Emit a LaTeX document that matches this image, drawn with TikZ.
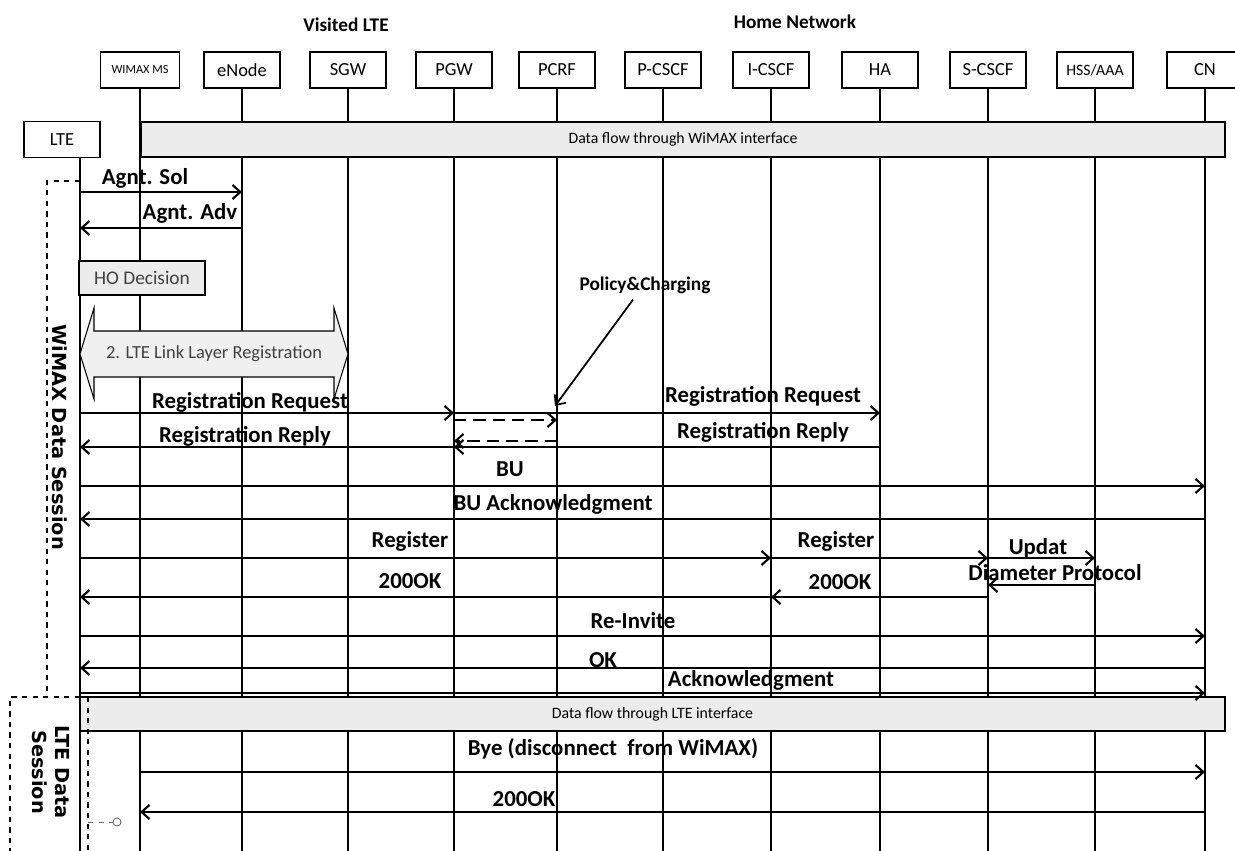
\documentclass[tikz,border=0pt]{standalone}
\usepackage{fontspec}
\setmainfont{Carlito}
\newfontfamily\sessfont{DejaVu Sans}
\usetikzlibrary{arrows.meta,positioning}

\begin{document}
\begin{tikzpicture}[
x=0.02cm, y=-0.02cm,
ent/.style={draw, line width=0.8pt, fill=white, minimum width=1.52cm, minimum height=0.72cm, inner sep=1pt, font=\fontsize{10.5}{12}\selectfont},
life/.style={line width=0.6pt},
bar/.style={draw, line width=0.8pt, fill=gray!15, inner sep=0pt, font=\fontsize{9}{10}\selectfont},
msg/.style={line width=1.2pt, -{Straight Barb[length=4.5pt,width=8pt]}},
pcc/.style={msg, dash pattern=on 7pt off 4pt},
lbl/.style={font=\bfseries\fontsize{13}{15}\selectfont, inner sep=0pt},
>=Stealth
]
\useasboundingbox (0,0) rectangle (1235,851);

% network groups
\node[font=\bfseries\fontsize{11}{13}\selectfont] (visited) at (346,25) {Visited LTE};
\node[font=\bfseries\fontsize{11}{13}\selectfont] (home) at (795,22) {Home Network};

% entities
\node[ent, minimum width=1.58cm] (wimax) at (140,70) {\fontsize{7}{8}\selectfont WIMAX MS};
\node[ent] (enode) at (242,70) {eNode};
\node[ent] (sgw) at (348,70) {SGW};
\node[ent] (pgw) at (454,70) {PGW};
\node[ent] (pcrf) at (557,70) {PCRF};
\node[ent] (pcscf) at (663,70) {P-CSCF};
\node[ent] (icscf) at (771,70) {I-CSCF};
\node[ent] (ha) at (880,70) {HA};
\node[ent] (scscf) at (988,70) {S-CSCF};
\node[ent] (hss) at (1095,70) {\fontsize{9}{10}\selectfont HSS/AAA};
\node[ent] (cn) at (1205,70) {CN};
\node[ent] (lte) at (62,139.5) {LTE};
\coordinate (ltel) at (80,157);

% lifelines
\foreach \n in {wimax,enode,sgw,pgw,pcrf,pcscf,icscf,ha,scscf,hss,cn}
  \draw[life] (\n.south) -- (\n |- 0,851);
\draw[life] (ltel) -- (ltel |- 0,851);

% data flow bars
\node[bar, minimum width=21.68cm, minimum height=0.7cm] (wflow) at (683,139.5) {Data flow through WiMAX interface};
\node[bar, minimum width=22.9cm, minimum height=0.68cm] (lflow) at (652.5,714) {Data flow through LTE interface};

% sessions
\draw[dashed, line width=0.6pt] (80,181) -- (47,181) -- (47,697);
\node[font=\sessfont\bfseries\fontsize{11}{13}\selectfont, rotate=-90] (wsess) at (60,437) {WiMAX Data Session};
\draw[dashed, line width=0.6pt] (80,697) -- (10,697) -- (10,851);
\draw[dashed, line width=0.6pt] (88,697) -- (88,851);
\node[font=\sessfont\bfseries\fontsize{11}{13}\selectfont, rotate=-90, align=center] (lsess) at (51,772) {LTE Data\\Session};
\coordinate (ltes) at (88,822);
\node[circle, draw=black!60, line width=0.5pt, inner sep=0pt, minimum size=0.16cm] (endc) at (117,822) {};
\draw[dashed, draw=black!60, line width=0.5pt] (ltes) -- (endc);

% agent discovery
\draw[msg] (ltel |- 0,192) -- (enode |- 0,192);
\node[lbl] (asol) at (145,178) {Agnt. Sol};
\draw[msg] (enode |- 0,228) -- (ltel |- 0,228);
\node[lbl] (aadv) at (190,213) {Agnt. Adv};

\node[draw, line width=0.8pt, fill=gray!15, minimum width=2.52cm, minimum height=0.68cm, text=black!75, font=\fontsize{11}{13}\selectfont] (ho) at (142,278) {HO Decision};

% link layer registration
\draw[line width=0.6pt, fill=gray!12] (80,354) -- (94,308) -- (94,331) -- (334,331) -- (334,308) -- (348,354)
  -- (334,399) -- (334,377) -- (94,377) -- (94,399) -- cycle;
\node[text=black!75, font=\fontsize{10.5}{12}\selectfont] (llreg) at (214,354) {2. LTE Link Layer Registration};

% registration
\draw[msg] (ltel |- 0,413) -- (pgw |- 0,413);
\draw[msg] (pgw |- 0,413) -- (ha |- 0,413);
\node[lbl] (rreq1) at (250,402) {Registration Request};
\node[lbl] (rreq2) at (763,396) {Registration Request};
\draw[pcc] (pgw |- 0,420) -- (pcrf |- 0,420);
\draw[pcc] (pcrf |- 0,441) -- (pgw |- 0,441);
\draw[msg] (ha |- 0,447) -- (pgw |- 0,447);
\draw[msg] (pgw |- 0,447) -- (ltel |- 0,447);
\node[lbl] (rrep1) at (245,436) {Registration Reply};
\node[lbl] (rrep2) at (763,432) {Registration Reply};

\node[font=\bfseries\fontsize{11}{13}\selectfont] (policy) at (645,285) {Policy\&Charging};
\coordinate (pcctip) at (555,406);
\draw[line width=1pt, -{Straight Barb[length=4.5pt,width=8pt]}] ([xshift=-0.24cm]policy.south) -- (pcctip);

% binding update
\draw[msg] (ltel |- 0,486) -- (cn |- 0,486);
\node[lbl] (bu) at (510,469) {BU};
\draw[msg] (cn |- 0,519) -- (ltel |- 0,519);
\node[lbl] (buack) at (553,504) {BU Acknowledgment};

% SIP register
\draw[msg] (ltel |- 0,558) -- (icscf |- 0,558);
\draw[msg] (icscf |- 0,558) -- (scscf |- 0,558);
\draw[msg] (scscf |- 0,558) -- (hss |- 0,558);
\node[lbl] (reg1) at (410,541) {Register};
\node[lbl] (reg2) at (836,541) {Register};
\node[lbl] (upd) at (1038,548) {Updat};
\draw[msg] (hss |- 0,585) -- (scscf |- 0,585);
\node[lbl] (diam) at (1055,573) {Diameter Protocol};
\draw[msg] (scscf |- 0,597) -- (icscf |- 0,597);
\draw[msg] (icscf |- 0,597) -- (ltel |- 0,597);
\node[lbl] (ok1) at (410,581) {200OK};
\node[lbl] (ok2) at (840,582) {200OK};

% re-invite
\draw[msg] (ltel |- 0,636) -- (cn |- 0,636);
\node[lbl] (reinv) at (633,621) {Re-Invite};
\draw[msg] (cn |- 0,668) -- (ltel |- 0,668);
\node[lbl] (okk) at (603,660) {OK};
\draw[msg] (ltel |- 0,693) -- (cn |- 0,693);
\node[lbl] (ack) at (751,680) {Acknowledgment};

% release WiMAX
\draw[msg] (wimax |- 0,772) -- (cn |- 0,772);
\node[lbl] (bye) at (613,749) {Bye (disconnect~ from WiMAX)};
\draw[msg] (cn |- 0,812) -- (wimax |- 0,812);
\node[lbl] (ok3) at (524,799) {200OK};

\end{tikzpicture}
\end{document}
